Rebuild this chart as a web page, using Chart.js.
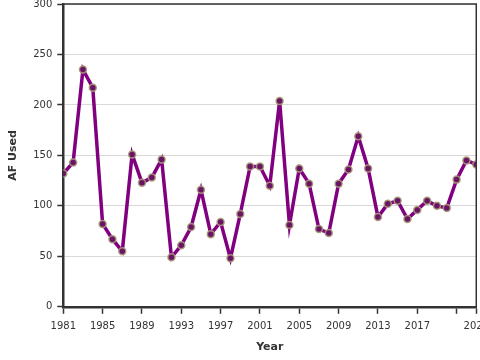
<!DOCTYPE html>
<html>
<head>
<meta charset="utf-8">
<script src="https://cdn.jsdelivr.net/npm/chart.js@4"></script>
<style>
  html, body { margin: 0; padding: 0; overflow: hidden; background: #fff; }
  #wrap { width: 496px; height: 371px; margin-top: -7px; }
</style>
</head>
<body>
<div id="wrap"><canvas id="myChart" width="496" height="371"></canvas></div>
<script>
const years = [1981, 1982, 1983, 1984, 1985, 1986, 1987, 1988, 1989, 1990,
    1991, 1992, 1993, 1994, 1995, 1996, 1997, 1998, 1999, 2000,
    2001, 2002, 2003, 2004, 2005, 2006, 2007, 2008, 2009, 2010,
    2011, 2012, 2013, 2014, 2015, 2016, 2017, 2018, 2019, 2020,
    2021, 2022, 2023]
const afUsed = [132, 143, 235, 217, 82, 67, 55, 151, 123, 128,
    146, 49, 61, 79, 116, 72, 84, 48, 92, 139,
    139, 120, 204, 81, 137, 122, 77, 73, 122, 136,
    169, 137, 89, 102, 105, 87, 96, 105, 100, 98,
    126, 145, 141]
const xTicks = [1981, 1985, 1989, 1993, 1997, 2001, 2005, 2009, 2013, 2017, 2021, 2023]
const xLabelled = [1981, 1985, 1989, 1993, 1997, 2001, 2005, 2009, 2013, 2017, 2023]

const points = []
for (i = 0; i < years.length; i++) {
    points.push({x: years[i], y: afUsed[i]})
}

// top + right frame lines of the plot box
const frame = {
    id: 'frame',
    afterDraw(chart) {
        const c = chart.ctx
        const a = chart.chartArea
        c.save()
        c.strokeStyle = '#333'
        c.lineWidth = 1.5
        c.beginPath()
        c.moveTo(a.left, a.top)
        c.lineTo(a.right, a.top)
        c.lineTo(a.right, a.bottom)
        c.stroke()
        c.restore()
    }
}

const ctx = document.getElementById('myChart').getContext('2d')
const myChart = new Chart(ctx, {
    type: 'line',
    data: {
        datasets: [{
            label: 'AF Used',
            data: points,
            borderColor: '#800080',
            borderWidth: 3.5,
            pointRadius: 3.5,
            pointBackgroundColor: '#6a1466',
            pointBorderColor: 'rgba(170, 155, 120, 0.9)',
            pointBorderWidth: 1.5,
            tension: 0
        }]
    },
    options: {
        responsive: false,
        animation: false,
        layout: { padding: { top: 0, left: 7, bottom: 8 } },
        plugins: {
            legend: { display: false },
            tooltip: { enabled: false }
        },
        scales: {
            x: {
                type: 'linear',
                min: 1981,
                max: 2023,
                afterBuildTicks: (axis) => {
                    axis.ticks = xTicks.map(v => ({value: v}))
                },
                ticks: {
                    autoSkip: false,
                    maxRotation: 0,
                    color: '#333',
                    font: { family: 'DejaVu Sans', size: 10 },
                    padding: 7,
                    callback: (v) => xLabelled.includes(v) ? String(v) : ''
                },
                grid: {
                    drawOnChartArea: false,
                    drawTicks: true,
                    tickLength: 7,
                    tickColor: '#333',
                    tickWidth: 1.5
                },
                border: { color: '#333', width: 2.5 },
                title: {
                    display: true,
                    text: 'Year',
                    color: '#333',
                    font: { family: 'DejaVu Sans', size: 11, weight: 'bold' },
                    padding: { top: 1, bottom: 2 }
                }
            },
            y: {
                min: 0,
                max: 300,
                ticks: {
                    stepSize: 50,
                    color: '#333',
                    font: { family: 'DejaVu Sans', size: 10 },
                    padding: 5
                },
                grid: {
                    color: '#d9d9d9',
                    lineWidth: 1,
                    tickLength: 6,
                    tickColor: '#333',
                    tickWidth: 1.5
                },
                border: { color: '#333', width: 2.5 },
                title: {
                    display: true,
                    text: 'AF Used',
                    color: '#333',
                    font: { family: 'DejaVu Sans', size: 11, weight: 'bold' },
                    padding: { top: 0, bottom: 8 }
                }
            }
        }
    },
    plugins: [frame]
})
</script>
</body>
</html>
